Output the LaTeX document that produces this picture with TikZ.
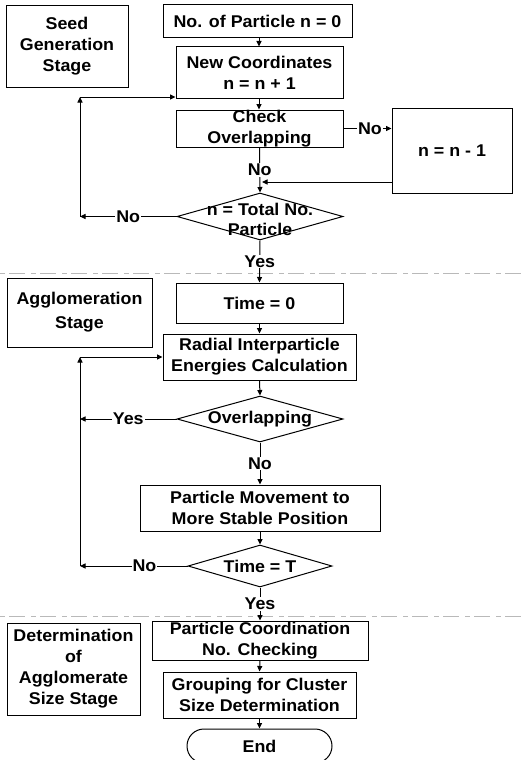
\documentclass[tikz,border=0pt]{standalone}
\usepackage{fontspec}
\setmainfont{Liberation Sans}[FakeStretch=1.05]
\usetikzlibrary{arrows.meta,shapes.geometric,shapes.misc}
\begin{document}
\begin{tikzpicture}[x=1pt,y=-1pt,
  every node/.style={font=\fontsize{17}{21}\selectfont\bfseries, inner sep=0pt, align=center},
  box/.style={draw, line width=1pt, rectangle},
  dec/.style={draw, line width=1pt, diamond, aspect=3.5},
  term/.style={draw, line width=1pt, rounded rectangle},
  lab/.style={fill=white, inner sep=1pt},
  arr/.style={line width=1pt, -{Triangle[length=5.5pt,width=5pt]}},
  sep/.style={gray!55, line width=0.6pt, dash pattern=on 5pt off 4pt on 16pt off 6pt}
]
\clip (0,0) rectangle (522,760);
\useasboundingbox (0,0) rectangle (522,760);
\fill[white] (0,0) rectangle (522,760);

% stage boxes
\node[box, minimum width=122pt, minimum height=81pt] (seed) at (67,46.5) {Seed\\Generation\\Stage};
\node[box, minimum width=145pt, minimum height=69pt] (aggl) at (79.5,312.5) {Agglomeration\\[3pt]Stage};
\node[box, minimum width=133pt, minimum height=92pt] (detm) at (73.5,669) {Determination\\of\\Agglomerate\\Size Stage};

% seed generation
\node[box, minimum width=189pt, minimum height=33pt] (n0) at (257.5,21.5) {No. of Particle n = 0};
\node[box, minimum width=167pt, minimum height=51pt] (newc) at (259.5,72.5) {New Coordinates\\n = n + 1};
\node[box, minimum width=167pt, minimum height=37pt] (check) at (259.5,128.5) {Check\\Overlapping};
\node[box, minimum width=120pt, minimum height=85pt] (nm1) at (452,150.5) {n = n - 1};
\node[dec, minimum width=166pt, minimum height=47pt] (d1) at (260,216.5) {};
\node at (260,209) {n = Total No.};
\node at (260,229) {Particle};

% agglomeration
\node[box, minimum width=167pt, minimum height=40pt] (t0) at (259.5,303) {Time = 0};
\node[box, minimum width=193pt, minimum height=46pt] (rad) at (259.5,357) {Radial Interparticle\\Energies Calculation};
\node[dec, minimum width=166pt, minimum height=46pt] (d2) at (260,419) {Overlapping};
\node[box, minimum width=240pt, minimum height=46pt] (pm) at (260,508) {Particle Movement to\\More Stable Position};
\node[dec, minimum width=144pt, minimum height=42pt] (d3) at (260,566) {Time = T};

% determination
\node[box, minimum width=216pt, minimum height=39pt] (pc) at (260,640.5) {Particle Coordination\\No. Checking};
\node[box, minimum width=193pt, minimum height=46pt] (grp) at (259.5,695) {Grouping for Cluster\\Size Determination};
\node[term, minimum width=145pt, minimum height=34pt] (endn) at (259.5,746) {End};

% separators
\draw[sep] (0,273) -- (522,273);
\draw[sep] (0,616) -- (522,616);

% coordinates
\coordinate (l1) at (80,216.5);
\coordinate (u1) at (80,97);
\coordinate (j1) at (262,182);
\coordinate (l2) at (80,419);
\coordinate (l3) at (80,566);
\coordinate (u3) at (80,357);

% connectors - seed
\draw[arr] (n0.south -| 259,0) -- (newc.north -| 259,0);
\draw[arr] (newc.south -| 259,0) -- (check.north -| 259,0);
\draw[arr] (check.south) -- node[lab]{No} (d1.north);
\draw[arr] (check.east) -- node[lab, pos=0.55]{No} (nm1.west |- check.east);
\draw[arr] (nm1.west |- j1) -- (j1);
\draw[arr] (d1.west) -- node[lab, pos=0.5]{No} (l1);
\draw[arr] (l1) -- (u1);
\draw[arr] (u1) -- (newc.west |- u1);
\draw[arr] (d1.south) -- node[lab, pos=0.5]{Yes} (t0.north);

% connectors - agglomeration
\draw[arr] (t0.south) -- (rad.north);
\draw[arr] (rad.south) -- (d2.north);
\draw[arr] (d2.west) -- node[lab]{Yes} (l2);
\draw[arr] (d2.south) -- node[lab]{No} (pm.north);
\draw[arr] (pm.south) -- (d3.north);
\draw[arr] (d3.west) -- node[lab, pos=0.4]{No} (l3);
\draw[arr] (l3) -- (u3);
\draw[arr] (u3) -- (rad.west |- u3);
\draw[arr] (d3.south) -- node[lab, pos=0.5]{Yes} (pc.north);

% connectors - determination
\draw[arr] (pc.south) -- (grp.north);
\draw[arr] (grp.south) -- (endn.north);
\end{tikzpicture}
\end{document}
